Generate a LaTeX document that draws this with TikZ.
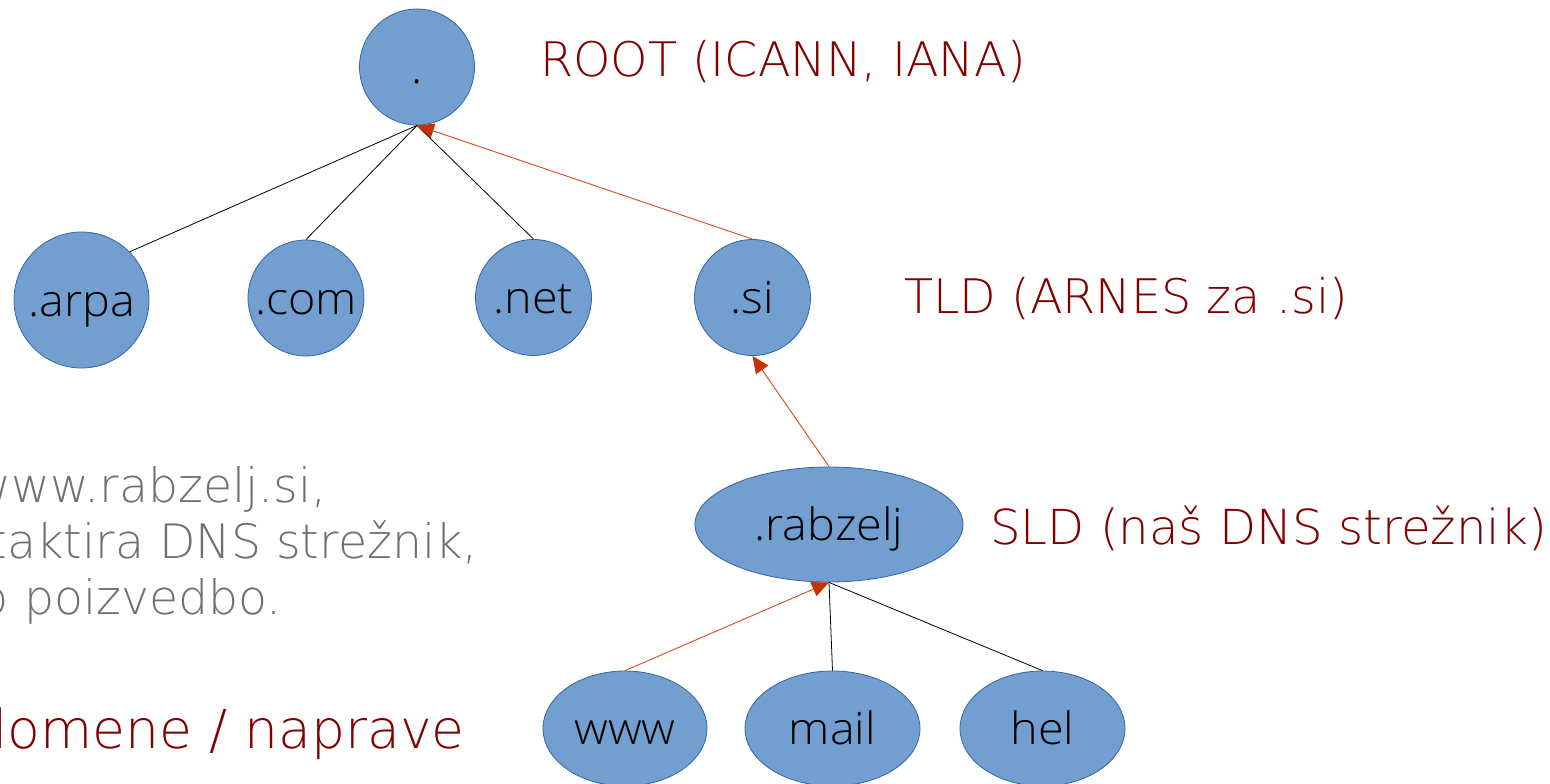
\documentclass[tikz,border=0pt]{standalone}
\usepackage{fontspec}
\usepackage{graphicx}
\setmainfont{DejaVu Sans}
\newfontfamily\xl{DejaVu Sans ExtraLight}
\newfontfamily\nf{Open Sans Light}
\newcommand{\nlabel}[1]{\makebox[0pt][c]{\scalebox{1.05}[1]{#1}}}
\usetikzlibrary{arrows.meta,shapes.geometric}
\definecolor{nodefill}{HTML}{729FCF}
\definecolor{nodeline}{HTML}{3465A4}
\definecolor{darkred}{HTML}{800000}
\definecolor{greytext}{HTML}{707070}
\definecolor{queryred}{HTML}{D84A1B}
\definecolor{tipred}{HTML}{C83200}
\begin{document}
\begin{tikzpicture}[x=1pt,y=-1pt,
  dnode/.style={ellipse, draw=nodeline, fill=nodefill, line width=0.8pt, inner sep=0pt,
    text height=32pt, text depth=0pt, font=\nf\fontsize{44.5}{44.5}\selectfont},
  title/.style={font=\xl\fontsize{47.6}{47.6}\selectfont, text=darkred, inner sep=0pt, anchor=base west},
  note/.style={font=\xl\fontsize{47.4}{47.4}\selectfont, text=greytext, inner sep=0pt, anchor=base east},
  tree/.style={draw=black, line width=0.8pt},
  query/.style={draw=queryred, line width=0.9pt, -{Triangle[length=17pt,width=15pt,fill=tipred,color=tipred]}}
]
\useasboundingbox (0,0) rectangle (1550,784);

% nodes
\node[dnode, minimum width=115pt, minimum height=116pt] (root) at (417,67) {\nlabel{.}};
\node[dnode, minimum width=135pt, minimum height=136pt] (arpa) at (81.5,300) {\nlabel{.arpa}};
\node[dnode, minimum width=116pt, minimum height=116pt] (com) at (306,298) {\nlabel{.com}};
\node[dnode, minimum width=116pt, minimum height=116pt] (net) at (533.5,297.5) {\nlabel{.net}};
\node[dnode, minimum width=116pt, minimum height=116pt] (si) at (752.5,297.5) {\nlabel{.si}};
\node[dnode, minimum width=268pt, minimum height=115pt] (rabzelj) at (829,524.5) {\nlabel{.rabzelj}};
\node[dnode, minimum width=164pt, minimum height=115pt] (www) at (625,728.5) {\nlabel{www}};
\node[dnode, minimum width=175pt, minimum height=115pt] (mail) at (832.5,728.5) {\nlabel{mail}};
\node[dnode, minimum width=165pt, minimum height=115pt] (hel) at (1042.5,728.5) {\nlabel{hel}};

% connectors
\draw[tree] (root.south) -- (arpa.45);
\draw[tree] (root.south) -- (com.north);
\draw[tree] (root.south) -- (net.north);
\draw[query] (si.north) -- (root.south);
\draw[query] (rabzelj.north) -- (si.south);
\draw[query] (www.north) -- (rabzelj.south);
\draw[tree] (rabzelj.south) -- (mail.north);
\draw[tree] (rabzelj.south) -- (hel.north);

% titles
\node[title] (troot) at (540,77) {ROOT (ICANN, IANA)};
\node[title] (ttld) at (904,313) {TLD (ARNES za .si)};
\node[title, font=\xl\fontsize{48.2}{48.2}\selectfont] (tsld) at (990,544) {SLD (naš DNS strežnik)};

% notes
\node[note] (n1) at (327,502) {www.rabzelj.si,};
\node[note] (n2) at (478,558) {taktira DNS strežnik,};
\node[note] (n3) at (282,614.5) {o poizvedbo.};
\node[note, text=darkred, font=\xl\fontsize{53.6}{53.6}\selectfont] (n4) at (465,748) {domene / naprave};
\end{tikzpicture}
\end{document}
